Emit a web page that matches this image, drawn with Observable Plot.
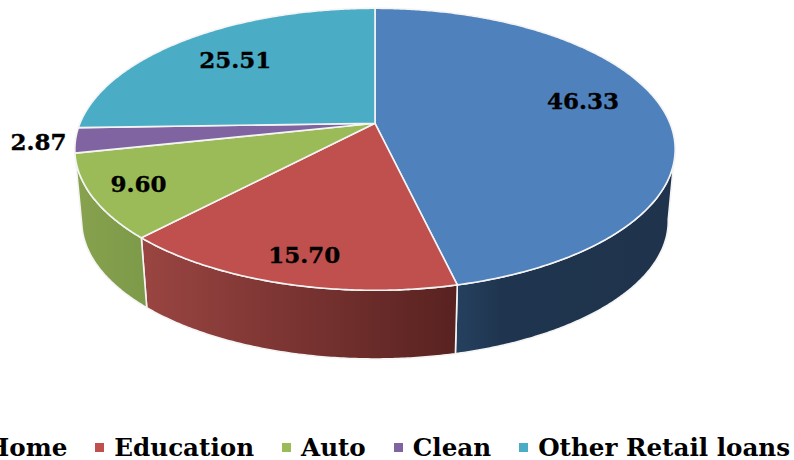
<!DOCTYPE html>
<html>
<head>
<meta charset="utf-8">
<script src="https://cdn.jsdelivr.net/npm/d3@7"></script>
<script src="https://cdn.jsdelivr.net/npm/@observablehq/plot@0.6"></script>
<style>
html,body{margin:0;padding:0;background:#fff;overflow:hidden;width:794px;height:460px}
#legend{position:absolute;top:436px;left:-33px;height:24px;line-height:24px;display:flex;align-items:center;white-space:nowrap;
font:bold 24.6px/24px "DejaVu Serif",serif;color:#000;letter-spacing:0}
#legend .item{display:flex;align-items:center;margin-right:28px}
#legend .sw{width:9px;height:9px;margin-right:10px;flex:none;position:relative;top:-1px}
</style>
</head>
<body>
<div id="chart"></div>
<div id="legend"></div>
<script>
const categories = ["Home", "Education", "Auto", "Clean", "Other Retail loans"];
const shares = [46.33, 15.70, 9.60, 2.87, 25.51];
const colors = ["#4f81bd", "#c0504d", "#9bbb59", "#8064a2", "#4bacc6"];
const labelRadius = [0.745, 0.85, 0.85, 1.12, 0.72];
const labelTurn = [-6.2, -1.2, 0, 0, 0];
const sideStops = {
  0: [["0%", "#25415f"], ["22%", "#1f344e"], ["100%", "#1f334c"]],
  1: [["0%", "#9a4542"], ["100%", "#582220"]],
  2: [["0%", "#88a24e"], ["100%", "#7c9a49"]]
};

const W = 794, H = 431;
const R = 295, tilt = 136.2 / 295, persp = 0.1844;
const cx = 374.5, cy = 122.8;
const depth = 72.5 / R, shrink = 0.977;
const horizon = 260;            // silhouette angles (deg from 12 o'clock)
const horizonR = 100;

const total = d3.sum(shares);
const cum = d3.cumsum(shares);
const startA = i => (i === 0 ? 0 : cum[i - 1]) / total * 360;
const endA = i => cum[i] / total * 360;

function proj(angleDeg, r = 1) {
  const a = angleDeg * Math.PI / 180;
  const u = r * Math.sin(a), v = -r * Math.cos(a);
  const d = 1 - persp * v;
  return {x: u / d, y: tilt * v / d};
}
const lower = p => ({x: p.x * shrink, y: p.y * shrink + depth});
function arc(a0, a1) {
  const n = Math.max(2, Math.ceil(Math.abs(a1 - a0) / 0.5));
  return d3.range(n + 1).map(k => proj(a0 + (a1 - a0) * k / n));
}
const close = pts => pts.concat([pts[0]]);

const faces = categories.map((c, i) => close([{x: 0, y: 0}, ...arc(startA(i), endA(i))]));
const sides = [0, 1, 2].map(i => {
  const a0 = Math.max(startA(i), i === 0 ? horizonR : 0);
  const a1 = Math.min(endA(i), horizon);
  const top = arc(a0, a1);
  return close([...top, ...top.slice().reverse().map(lower)]);
});
const labels = categories.map((c, i) => {
  const p = proj((startA(i) + endA(i)) / 2 + labelTurn[i], labelRadius[i]);
  return {...p, text: shares[i].toFixed(2)};
});

const gradients = () => {
  const defs = d3.create("svg:defs");
  Object.entries(sideStops).forEach(([i, stops]) => {
    const g = defs.append("linearGradient").attr("id", "side" + i);
    stops.forEach(([o, c]) => g.append("stop").attr("offset", o).attr("stop-color", c));
  });
  return defs.node();
};

const outline = {x: "x", y: "y", curve: "linear", stroke: "#f4f4f4", strokeWidth: 1.6, strokeLinejoin: "round"};

const plot = Plot.plot({
  width: W, height: H,
  margin: 0,
  style: {background: "#fff", display: "block"},
  x: {domain: [-cx / R, (W - cx) / R], range: [0, W], axis: null},
  y: {domain: [-cy / R, (H - cy) / R], range: [0, H], axis: null},
  marks: [
    gradients,
    ...sides.map((s, i) => Plot.line(s, {...outline, fill: `url(#side${i})`})),
    ...faces.map((f, i) => Plot.line(f, {...outline, fill: colors[i]})),
    Plot.text(labels, {
      x: "x", y: "y", text: "text", fill: "#000", fontWeight: "bold",
      stroke: "#000", strokeWidth: 0.35,
      fontFamily: "DejaVu Serif", fontSize: 23, textAnchor: "middle", lineAnchor: "middle"
    })
  ]
});
document.getElementById("chart").append(plot);

const legend = d3.select("#legend");
categories.forEach((c, i) => {
  const it = legend.append("div").attr("class", "item");
  it.append("span").attr("class", "sw").style("background", colors[i]);
  it.append("span").text(c);
});
</script>
</body>
</html>
